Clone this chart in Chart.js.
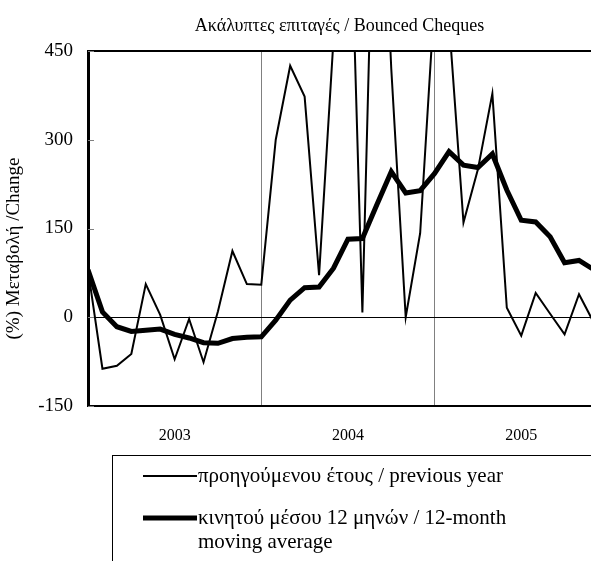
<!DOCTYPE html>
<html>
<head>
<meta charset="utf-8">
<script src="https://cdn.jsdelivr.net/npm/chart.js@4.4.1/dist/chart.umd.min.js"></script>
<style>
  html, body { margin: 0; padding: 0; background: #fff; overflow: hidden; }
</style>
</head>
<body>
<canvas id="bounced-cheques" width="591" height="561"></canvas>
<script>
// Data: monthly, Jan 2003 onwards
const yearLabels = ['2003', '2004', '2005'];
const previousYear = [80, -87, -82, -62, 56, 4, -71, -3, -76, 10, 112, 56,
  55, 300, 425, 373, 71, 470, 850, 8, 955, 420, 0, 142,
  540, 500, 160, 250, 378, 16, -31, 41, 6, -29, 39, -8];
const movingAvg12 = [80, 9, -16, -24, -22, -20, -29, -35, -43, -44, -36, -34,
  -33, -5, 29, 50, 51, 83, 132, 133, 190, 246, 210, 214,
  243, 280, 257, 253, 276, 215, 164, 161, 136, 92, 96, 81];
const yTicks = [-150, 0, 150, 300, 450];
const yTitle = '(%) Μεταβολή /Change';
const legendLines = [
  ['προηγούμενου έτους / previous year'],
  ['κινητού μέσου 12 μηνών / 12-month', 'moving average'],
];

const FONT = 'Liberation Serif';
Chart.defaults.font.family = FONT;
Chart.defaults.color = '#000';

const toPoints = (arr) => arr.map((v, i) => ({ x: i, y: v }));

// inward tick marks on the y axis + rotated axis title (sits a bit low in the original)
const yAxisExtras = {
  id: 'yAxisExtras',
  afterDraw(chart) {
    const { ctx, chartArea, scales: { y } } = chart;
    ctx.save();
    ctx.strokeStyle = '#808080';
    ctx.lineWidth = 1;
    yTicks.forEach(v => {
      const py = Math.round(y.getPixelForValue(v)) + 0.5;
      ctx.beginPath();
      ctx.moveTo(chartArea.left, py);
      ctx.lineTo(chartArea.left + 6, py);
      ctx.stroke();
    });
    ctx.translate(14, (chartArea.top + chartArea.bottom) / 2 + 20);
    ctx.rotate(-Math.PI / 2);
    ctx.font = `19px "${FONT}"`;
    ctx.fillStyle = '#000';
    ctx.textAlign = 'center';
    ctx.textBaseline = 'middle';
    ctx.fillText(yTitle, 0, 0);
    ctx.restore();
  },
};

// boxed legend under the chart, like the original
const boxLegend = {
  id: 'boxLegend',
  afterDraw(chart) {
    const { ctx } = chart;
    ctx.save();
    ctx.strokeStyle = '#000';
    ctx.lineWidth = 1;
    ctx.strokeRect(112.5, 455.5, 520, 140);
    ctx.font = `21px "${FONT}"`;
    ctx.fillStyle = '#000';
    ctx.textBaseline = 'middle';
    const rows = [476, 518];
    chart.data.datasets.forEach((ds, i) => {
      const y = rows[i];
      ctx.strokeStyle = ds.borderColor;
      ctx.lineWidth = ds.borderWidth;
      ctx.beginPath();
      ctx.moveTo(143, y);
      ctx.lineTo(197, y);
      ctx.stroke();
      legendLines[i].forEach((t, j) => ctx.fillText(t, 198, y + j * 24));
    });
    ctx.restore();
  },
};

new Chart(document.getElementById('bounced-cheques'), {
  type: 'line',
  data: {
    datasets: [
      // thin line: change over previous year
      {
        label: legendLines[0].join(' '),
        data: toPoints(previousYear),
        borderColor: '#000',
        borderWidth: 2,
        tension: 0,
        pointRadius: 0,
        clip: 0,
      },
      // thick line: 12-month moving average
      {
        label: legendLines[1].join(' '),
        data: toPoints(movingAvg12),
        borderColor: '#000',
        borderWidth: 5,
        tension: 0,
        pointRadius: 0,
        clip: 0,
      },
    ],
  },
  options: {
    responsive: false,
    animation: false,
    layout: { padding: 0 },
    scales: {
      x: {
        type: 'linear',
        min: 0,
        max: 34.83,
        afterBuildTicks: (scale) => {
          scale.ticks = [6, 12, 18, 24, 30].map(v => ({ value: v }));
        },
        afterFit: (scale) => { scale.height = 155; },
        grid: {
          color: (c) => (c.tick && c.tick.value % 12 === 0 ? '#808080' : 'rgba(0,0,0,0)'),
          lineWidth: 1,
          drawTicks: false,
        },
        border: { color: '#000', width: 2 },
        ticks: {
          autoSkip: false,
          maxRotation: 0,
          padding: 20,
          font: { size: 16 },
          callback: (v) => (v % 12 === 6 ? yearLabels[(v - 6) / 12] : ''),
        },
      },
      y: {
        min: -150,
        max: 450,
        afterBuildTicks: (scale) => {
          scale.ticks = yTicks.map(v => ({ value: v }));
        },
        afterFit: (scale) => { scale.width = 88; },
        grid: {
          color: (c) => (c.tick && (c.tick.value === 0 || c.tick.value === 450) ? '#000' : 'rgba(0,0,0,0)'),
          lineWidth: (c) => (c.tick && c.tick.value === 450 ? 2 : 1),
          drawTicks: false,
        },
        border: { color: '#000', width: 3 },
        ticks: {
          padding: 15,
          font: { size: 19 },
        },
      },
    },
    plugins: {
      title: {
        display: true,
        text: 'Ακάλυπτες επιταγές / Bounced Cheques',
        fullSize: false,
        font: { size: 18, weight: 'normal' },
        padding: { top: 15, bottom: 14.4 },
      },
      legend: { display: false },
      tooltip: { enabled: false },
    },
  },
  plugins: [yAxisExtras, boxLegend],
});
</script>
</body>
</html>
